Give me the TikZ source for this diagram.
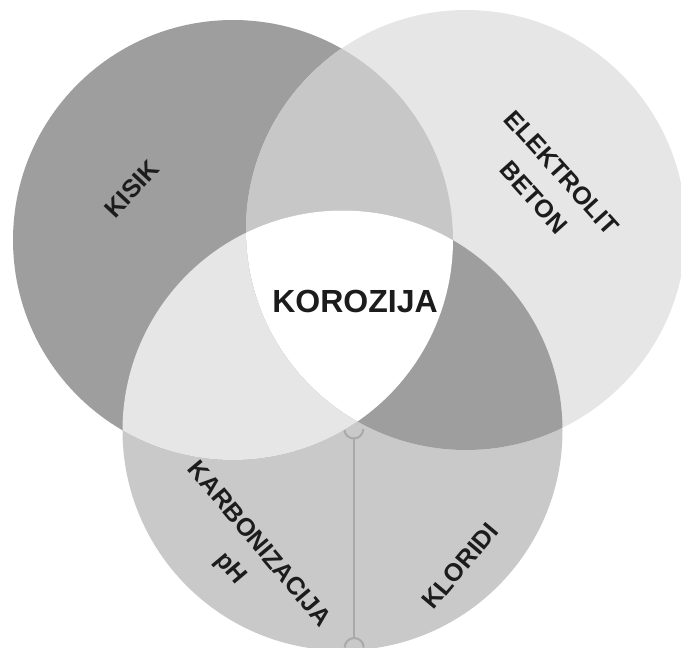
\documentclass[tikz,border=0pt]{standalone}
\usepackage{fontspec}
\setmainfont{Liberation Sans}
\definecolor{cLeft}{HTML}{9E9E9E}
\definecolor{cRight}{HTML}{E6E6E6}
\definecolor{cBottom}{HTML}{C9C9C9}
\definecolor{cLR}{HTML}{C7C7C7}
\definecolor{cLB}{HTML}{E6E6E6}
\definecolor{cRB}{HTML}{9E9E9E}
\definecolor{lineG}{HTML}{A9A9A9}
\definecolor{txt}{HTML}{1C1C1C}
\begin{document}
\begin{tikzpicture}[x=1pt,y=-1pt,
  lbl/.style={text=txt,font=\bfseries\fontsize{25}{37}\selectfont,align=center,inner sep=0pt},
  big/.style={text=txt,font=\bfseries\fontsize{32}{36}\selectfont,inner sep=0pt},
  dotc/.style={circle,minimum size=19pt,inner sep=0pt},
  conn/.style={draw=lineG,line width=2pt}]
\useasboundingbox (0,0) rectangle (681,648);
\coordinate (L) at (233,240);
\coordinate (R) at (466,230);
\coordinate (B) at (342.5,430.5);
% bottom circle
\fill[cBottom] (B) circle (220pt);
% connector with end markers
\node[dotc] (t1) at (354,429) {};
\node[dotc] (t2) at (354,647.5) {};
\draw[conn] (t1.south) -- (t2.north);
\draw[conn] (t1.west) arc[start angle=180,end angle=360,radius=9.5pt];
\draw[conn] (t2.east) arc[start angle=0,end angle=180,radius=9.5pt];
% left and right circles
\fill[cLeft] (L) circle (220pt);
\fill[cRight] (R) circle (220pt);
\begin{scope}
  \clip (L) circle (220pt);
  \fill[cLR] (R) circle (220pt);
  \fill[cLB] (B) circle (220pt);
\end{scope}
\begin{scope}
  \clip (R) circle (220pt);
  \fill[cRB] (B) circle (220pt);
  \clip (L) circle (220pt);
  \fill[white] (B) circle (220pt);
\end{scope}
% labels
\node[big] (koro) at (355,301) {KOROZIJA};
\node[lbl,rotate=47] (kisik) at (132,189) {KISIK};
\node[lbl,rotate=-48] (elek) at (548,185) {ELEKTROLIT\\BETON};
\node[lbl,rotate=-50] (karb) at (244,557) {KARBONIZACIJA\\pH};
\node[lbl,rotate=50] (klor) at (460,566) {KLORIDI};
\end{tikzpicture}
\end{document}
